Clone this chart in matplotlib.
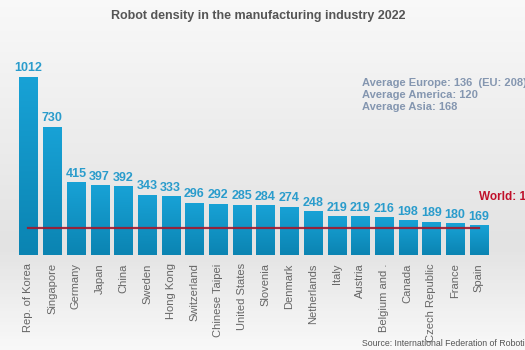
import numpy as np
import matplotlib.pyplot as plt
from matplotlib.colors import LinearSegmentedColormap

plt.rcParams['font.family'] = ['Liberation Sans', 'DejaVu Sans']

countries = ["Rep. of Korea", "Singapore", "Germany", "Japan", "China", "Sweden",
             "Hong Kong", "Switzerland", "Chinese Taipei", "United States", "Slovenia",
             "Denmark", "Netherlands", "Italy", "Austria", "Belgium and .", "Canada",
             "Czech Republic", "France", "Spain"]
density = [1012, 730, 415, 397, 392, 343, 333, 296, 292, 285, 284, 274, 248,
           219, 219, 216, 198, 189, 180, 169]
world_avg = 151
averages = ["Average Europe: 136  (EU: 208)", "Average America: 120", "Average Asia: 168"]

fig = plt.figure(figsize=(5.25, 3.5), dpi=100)

# background gradient
bg = fig.add_axes([0, 0, 1, 1])
grad = np.concatenate([np.linspace(1.0, 0.0, 70), np.linspace(0.0, 1.0, 30)]).reshape(-1, 1)
cmap = LinearSegmentedColormap.from_list("bg", ["#e3e3e3", "#ffffff"])
bg.imshow(grad, aspect="auto", cmap=cmap, extent=[0, 1, 0, 1], vmin=0, vmax=1.3)
bg.axis("off")

ax = fig.add_axes([10 / 525, 95 / 350, 515 / 525, 215 / 350])
ax.patch.set_alpha(0)
x = np.arange(len(countries))
bars = ax.bar(x, density, width=0.76, color="#1393c6", zorder=2)

# vertical gradient inside each bar
bar_cmap = LinearSegmentedColormap.from_list("bar", ["#0b84b2", "#18a2d6"])
col = np.linspace(0, 1, 100).reshape(-1, 1)
for b in bars:
    b.set_facecolor("none")
    b.set_edgecolor("none")
    im = ax.imshow(col, cmap=bar_cmap, aspect="auto", origin="lower",
                   extent=[b.get_x(), b.get_x() + b.get_width(), 0, b.get_height()],
                   zorder=2)
    im.set_clip_path(b)

for xi, v in zip(x, density):
    ax.text(xi, v + 14, str(v), ha="center", va="bottom", fontsize=9,
            fontweight="bold", color="#2a9ccc")

ax.plot([x[0], x[-1]], [world_avg, world_avg], color="#a3172c", lw=1.6, zorder=3, alpha=0.9)
ax.text(19.02, 330, f"World: {world_avg}", color="#c0102a", fontsize=8.5,
        fontweight="bold", ha="left", va="center")

ax.set_xlim(-0.78, 20.95)
ax.set_ylim(0, 1222)
ax.set_yticks([])
ax.set_xticks(x)
ax.set_xticklabels(countries, rotation=90, fontsize=8, color="#666666")
ax.tick_params(axis="x", length=0, pad=6)
for s in ax.spines.values():
    s.set_visible(False)

fig.text(362 / 525, 1 - 95 / 350, "\n".join(averages), fontsize=8, fontweight="bold",
         color="#8496b0", ha="left", va="center", linespacing=1.2)
fig.text(258 / 525, 1 - 16 / 350, "Robot density in the manufacturing industry 2022",
         fontsize=9, fontweight="bold", color="#555555", ha="center", va="center")
fig.text(362 / 525, 1 - 343 / 350, "Source: International Federation of Robotics",
         fontsize=6.3, color="#555555", ha="left", va="center")

fig.savefig("out.png", dpi=100)
